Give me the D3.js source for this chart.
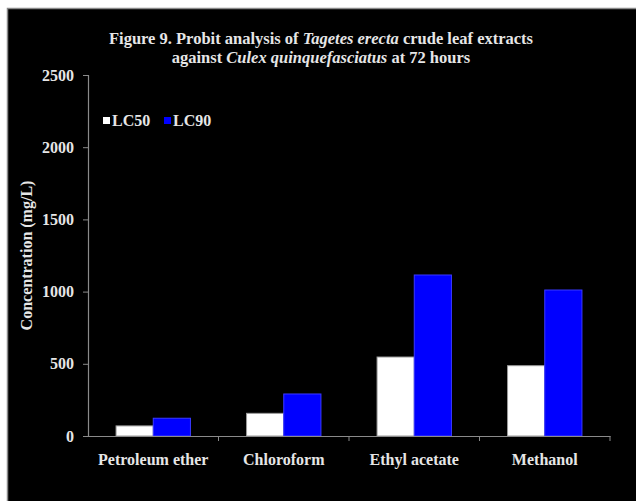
<!DOCTYPE html>
<html>
<head>
<meta charset="utf-8">
<script src="https://cdn.jsdelivr.net/npm/d3@7/dist/d3.min.js"></script>
<style>
  html, body { margin: 0; padding: 0; background: #ffffff; }
  svg { display: block; }
  text { font-family: "Liberation Serif", "Times New Roman", serif; font-weight: bold; }
</style>
</head>
<body>
<svg id="chart" width="636" height="501"></svg>
<script>
// Extract solvents and lethal concentrations (mg/L)
const categories = ["Petroleum ether", "Chloroform", "Ethyl acetate", "Methanol"];
const seriesNames = ["LC50", "LC90"];
const lc50 = [70, 157, 547, 487];
const lc90 = [123, 291, 1115, 1011];
const yTicks = [0, 500, 1000, 1500, 2000, 2500];
const seriesColors = ["#ffffff", "#0000ff"];

const svg = d3.select("#chart");
const W = 636, H = 501;

// Panel frame
svg.append("rect").attr("x", 7).attr("y", 8).attr("width", W - 7).attr("height", H - 8)
  .attr("fill", "#000000");
svg.append("path").attr("d", `M7.5,${H}V8.5H${W}`).attr("fill", "none")
  .attr("stroke", "#8a8a8a").attr("stroke-width", 1.5);

const plot = { left: 88, right: 610, top: 75, bottom: 436 };

const x0 = d3.scaleBand().domain(categories).range([plot.left, plot.right]).padding(0);
const x1 = d3.scaleBand().domain(seriesNames)
  .range([x0.bandwidth() * 0.215, x0.bandwidth() * 0.785]).padding(0);
const y = d3.scaleLinear().domain([0, 2500]).range([plot.bottom, plot.top]);

const rows = categories.map((c, i) => ({ cat: c, values: [lc50[i], lc90[i]] }));

// Bars
const groups = svg.append("g").selectAll("g").data(rows).join("g")
  .attr("transform", d => `translate(${x0(d.cat)},0)`);
groups.selectAll("rect").data(d => d.values.map((v, k) => ({ key: seriesNames[k], v, k })))
  .join("rect")
  .attr("x", d => x1(d.key))
  .attr("y", d => y(d.v))
  .attr("width", x1.bandwidth())
  .attr("height", d => y(0) - y(d.v))
  .attr("fill", d => seriesColors[d.k])
  .attr("stroke", d => d.k === 0 ? "#9a9a9a" : "#3a3aff")
  .attr("stroke-width", 1);

// Y axis
const yAxis = svg.append("g").attr("transform", `translate(${plot.left},0)`)
  .call(d3.axisLeft(y).tickValues(yTicks).tickSize(5).tickPadding(9).tickFormat(d3.format("d")));
yAxis.select(".domain").attr("stroke", "#8a8a8a").attr("stroke-width", 1.2);
yAxis.selectAll(".tick line").attr("stroke", "#8a8a8a");
yAxis.selectAll(".tick text").attr("fill", "#e6e6e6")
  .style("font-family", "'Liberation Serif', serif").style("font-weight", "bold")
  .style("font-size", "16px");

// X axis with ticks between categories
const xAxis = svg.append("g").attr("transform", `translate(0,${plot.bottom})`)
  .call(d3.axisBottom(x0).tickSize(0));
xAxis.select(".domain").attr("stroke", "#8a8a8a").attr("stroke-width", 1.2);
xAxis.selectAll(".tick text").attr("fill", "#e6e6e6")
  .attr("y", 29).attr("dy", null)
  .style("font-family", "'Liberation Serif', serif").style("font-weight", "bold")
  .style("font-size", "16px");
xAxis.selectAll(".sep").data(categories).join("line").attr("class", "sep")
  .attr("x1", d => x0(d) + x0.bandwidth()).attr("x2", d => x0(d) + x0.bandwidth())
  .attr("y1", 0).attr("y2", 5).attr("stroke", "#8a8a8a");

// Y axis title
svg.append("text")
  .attr("transform", `translate(32,${(plot.top + plot.bottom) / 2}) rotate(-90)`)
  .attr("text-anchor", "middle").attr("fill", "#e6e6e6").style("font-size", "16px")
  .text("Concentration  (mg/L)");

// Title
const title = svg.append("text").attr("text-anchor", "middle").attr("fill", "#e6e6e6")
  .style("font-size", "16.5px");
const l1 = title.append("tspan").attr("x", 321).attr("y", 44);
l1.append("tspan").text("Figure 9. Probit analysis of ");
l1.append("tspan").style("font-style", "italic").text("Tagetes erecta");
l1.append("tspan").text(" crude leaf extracts");
const l2 = title.append("tspan").attr("x", 321).attr("y", 63);
l2.append("tspan").text("against ");
l2.append("tspan").style("font-style", "italic").text("Culex quinquefasciatus");
l2.append("tspan").text(" at 72 hours");

// Legend
const legend = svg.append("g").attr("transform", "translate(103,126)");
const legendX = [0, 61];
seriesNames.forEach((name, k) => {
  const g = legend.append("g").attr("transform", `translate(${legendX[k]},0)`);
  g.append("rect").attr("x", 0).attr("y", -9).attr("width", 7).attr("height", 7)
    .attr("fill", seriesColors[k]);
  g.append("text").attr("x", 9).attr("y", 0).attr("fill", "#e6e6e6")
    .style("font-size", "16px").text(name);
});
</script>
</body>
</html>
